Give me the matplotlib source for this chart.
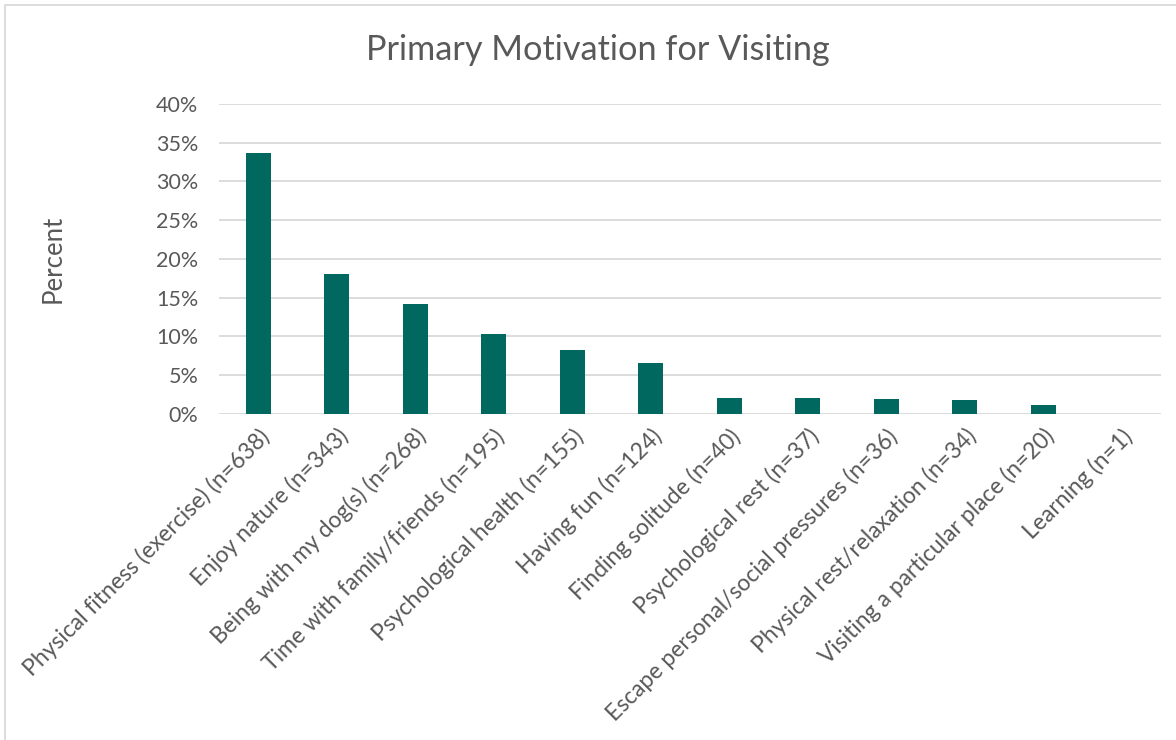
import matplotlib
matplotlib.use('Agg')
import matplotlib.pyplot as plt
from matplotlib.patches import Rectangle
from matplotlib.ticker import PercentFormatter

plt.rcParams['font.family'] = ['Lato', 'DejaVu Sans']

# --- data ---
categories = [
    'Physical fitness (exercise) (n=638)',
    'Enjoy nature (n=343)',
    'Being with my dog(s) (n=268)',
    'Time with family/friends (n=195)',
    'Psychological health (n=155)',
    'Having fun (n=124)',
    'Finding solitude (n=40)',
    'Psychological rest (n=37)',
    'Escape personal/social pressures (n=36)',
    'Physical rest/relaxation (n=34)',
    'Visiting a particular place (n=20)',
    'Learning (n=1)',
]
percent = [33.7, 18.1, 14.2, 10.3, 8.2, 6.6, 2.1, 2.0, 1.9, 1.8, 1.1, 0.05]
y_ticks = [0, 5, 10, 15, 20, 25, 30, 35, 40]

W, H = 1176, 740
fig = plt.figure(figsize=(W / 100, H / 100), dpi=100)
ax = fig.add_axes([219 / W, 1 - 414 / H, (1161 - 219) / W, (414 - 104) / H])

text_col = '#595959'
bar_col = '#00685E'

x = range(len(categories))
ax.bar(x, percent, width=0.32, color=bar_col, zorder=3)

ax.set_xlim(-0.5, len(categories) - 0.5)
ax.set_ylim(0, 40)
ax.set_yticks(y_ticks)
ax.yaxis.set_major_formatter(PercentFormatter(decimals=0))
ax.grid(axis='y', color='#D9D9D9', linewidth=1.3, zorder=0)
for s in ax.spines.values():
    s.set_visible(False)
ax.tick_params(axis='both', length=0, colors=text_col)
ax.tick_params(axis='y', pad=15, labelsize=15.5)
ax.set_xticks(list(x))
ax.set_xticklabels(categories, rotation=45, ha='right', rotation_mode='anchor', fontsize=16.5)
ax.tick_params(axis='x', pad=8)

ax.set_ylabel('Percent', color=text_col, fontsize=18.5, labelpad=65)
fig.text(598 / W, 1 - 50 / H, 'Primary Motivation for Visiting', ha='center', va='center',
         color=text_col, fontsize=24.7)

# outer chart frame (only top and left edges fall inside the image)
fig.patches.append(Rectangle((5 / W, -0.1), 1.2, 1 - 5 / H + 0.1, transform=fig.transFigure,
                             fill=False, edgecolor='#D9D9D9', linewidth=1.3))

fig.savefig('out.png', dpi=100)
